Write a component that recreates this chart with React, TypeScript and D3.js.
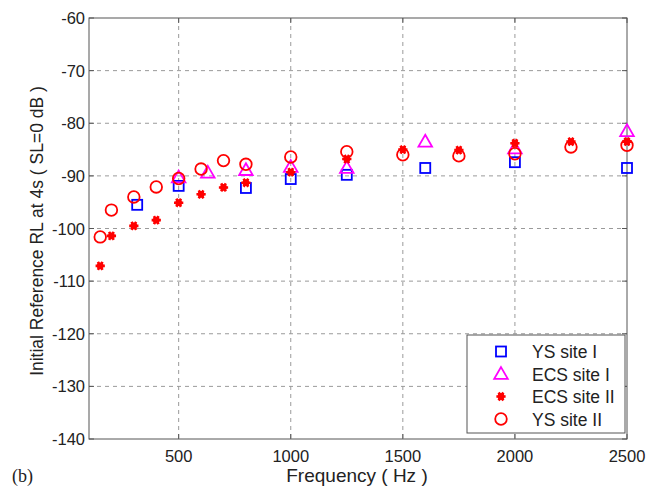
import React from "react";
import * as d3 from "d3";

// Frequencies (Hz) and levels (dB) for each measurement set
const ysSite1Freq = [315, 500, 800, 1000, 1250, 1600, 2000, 2500];
const ysSite1Level = [-95.5, -91.9, -92.3, -90.6, -89.8, -88.5, -87.4, -88.5];

const ecsSite1Freq = [500, 630, 800, 1000, 1250, 1600, 2000, 2500];
const ecsSite1Level = [-90.3, -89.4, -88.9, -88.3, -88.5, -83.5, -84.8, -81.5];

const ecsSite2Freq = [150, 200, 300, 400, 500, 600, 700, 800, 1000, 1250, 1500, 1750, 2000, 2250, 2500];
const ecsSite2Level = [-107.1, -101.4, -99.5, -98.4, -95.1, -93.5, -92.2, -91.3, -89.3, -86.8, -85.0, -85.1, -83.8, -83.5, -83.5];

const ysSite2Freq = [150, 200, 300, 400, 500, 600, 700, 800, 1000, 1250, 1500, 1750, 2000, 2250, 2500];
const ysSite2Level = [-101.6, -96.5, -94.0, -92.1, -90.5, -88.7, -87.1, -87.8, -86.4, -85.4, -86.0, -86.2, -85.8, -84.5, -84.2];

const xTicks = [500, 1000, 1500, 2000, 2500];
const yTicks = [-60, -70, -80, -90, -100, -110, -120, -130, -140];
const legendLabels = ["YS site I", "ECS site I", "ECS site II", "YS site II"];

const W = 657;
const H = 489;
const m = { left: 89, right: 627, top: 18, bottom: 439 };

const x = d3.scaleLinear().domain([100, 2500]).range([m.left, m.right]);
const y = d3.scaleLinear().domain([-140, -60]).range([m.bottom, m.top]);

const font = "'Liberation Sans', Arial, sans-serif";

type Kind = "square" | "triangle" | "star" | "circle";

function Marker({ kind, cx, cy }: { kind: Kind; cx: number; cy: number }) {
  if (kind === "square") {
    return <rect x={cx - 5} y={cy - 5} width={10} height={10} fill="none" stroke="#0000ff" strokeWidth={1.8} />;
  }
  if (kind === "triangle") {
    const p = d3.symbol().type(d3.symbolTriangle).size(80)();
    return <path d={p || ""} transform={`translate(${cx},${cy + 1})`} fill="none" stroke="#ff00ff" strokeWidth={1.8} />;
  }
  if (kind === "star") {
    const p = d3.symbol().type(d3.symbolAsterisk).size(60)();
    return (
      <g transform={`translate(${cx},${cy})`}>
        <circle r={3.4} fill="#ff0000" />
        <path d={p || ""} transform="rotate(90)" fill="none" stroke="#ff0000" strokeWidth={2.6} />
      </g>
    );
  }
  return <circle cx={cx} cy={cy} r={5.8} fill="none" stroke="#ff0000" strokeWidth={1.8} />;
}

const series: { kind: Kind; f: number[]; v: number[] }[] = [
  { kind: "square", f: ysSite1Freq, v: ysSite1Level },
  { kind: "triangle", f: ecsSite1Freq, v: ecsSite1Level },
  { kind: "star", f: ecsSite2Freq, v: ecsSite2Level },
  { kind: "circle", f: ysSite2Freq, v: ysSite2Level },
];

export default function App() {
  const gridColor = "#9a9a9a";
  return (
    <svg width={W} height={H} style={{ position: "absolute", left: 0, top: 0, background: "#fff" }}>
      <rect x={0} y={0} width={W} height={H} fill="#fff" />
      {/* grid */}
      {yTicks.slice(1, -1).map((t) => (
        <line key={"gy" + t} x1={m.left} x2={m.right} y1={y(t)} y2={y(t)} stroke={gridColor} strokeWidth={1} strokeDasharray="4,4" />
      ))}
      {xTicks.slice(0, -1).map((t) => (
        <line key={"gx" + t} x1={x(t)} x2={x(t)} y1={m.top} y2={m.bottom} stroke={gridColor} strokeWidth={1} strokeDasharray="4,4" />
      ))}
      {/* axes box */}
      <rect x={m.left} y={m.top} width={m.right - m.left} height={m.bottom - m.top} fill="none" stroke="#555" strokeWidth={1} />
      {yTicks.map((t) => (
        <g key={"ty" + t}>
          <line x1={m.left} x2={m.left + 5} y1={y(t)} y2={y(t)} stroke="#555" />
          <line x1={m.right} x2={m.right - 5} y1={y(t)} y2={y(t)} stroke="#555" />
          <text x={m.left - 4} y={y(t) + 6} textAnchor="end" fontFamily={font} fontSize={16.5} fill="#222">
            {t}
          </text>
        </g>
      ))}
      {xTicks.map((t) => (
        <g key={"tx" + t}>
          <line x1={x(t)} x2={x(t)} y1={m.bottom} y2={m.bottom - 5} stroke="#555" />
          <line x1={x(t)} x2={x(t)} y1={m.top} y2={m.top + 5} stroke="#555" />
          <text x={x(t)} y={m.bottom + 23} textAnchor="middle" fontFamily={font} fontSize={16.5} fill="#222">
            {t}
          </text>
        </g>
      ))}
      {/* data */}
      {series.map((s) =>
        s.f.map((f, i) => <Marker key={s.kind + f} kind={s.kind} cx={x(f)} cy={y(s.v[i])} />)
      )}
      {/* legend */}
      <rect x={467} y={335} width={158} height={98} fill="#fff" stroke="#555" strokeWidth={1} />
      {legendLabels.map((lab, i) => (
        <g key={lab}>
          <Marker kind={series[i].kind} cx={501} cy={351.5 + i * 22.5} />
          <text x={532} y={351.5 + i * 22.5 + 6.5} fontFamily={font} fontSize={17.5} fill="#222">
            {lab}
          </text>
        </g>
      ))}
      {/* labels */}
      <text x={357} y={482} textAnchor="middle" fontFamily={font} fontSize={19} fill="#222">
        Frequency ( Hz )
      </text>
      <text
        transform={`translate(43,231) rotate(-90)`}
        textAnchor="middle"
        fontFamily={font}
        fontSize={17.5}
        fill="#222"
      >
        Initial Reference RL at 4s ( SL=0 dB )
      </text>
      <text x={12} y={482} fontFamily="'Liberation Serif', 'Times New Roman', serif" fontSize={18} fill="#222">
        (b)
      </text>
    </svg>
  );
}
